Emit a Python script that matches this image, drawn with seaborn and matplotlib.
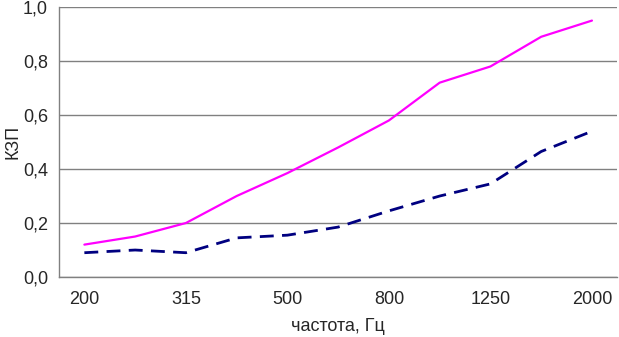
import numpy as np
import pandas as pd
import seaborn as sns
import matplotlib
matplotlib.use("Agg")
import matplotlib.pyplot as plt
from matplotlib.ticker import FixedLocator, FuncFormatter

# частоты, Гц (третьоктавные полосы)
freqs = ["200", "250", "315", "400", "500", "630", "800", "1000", "1250", "1600", "2000"]
kzp_1 = [0.12, 0.15, 0.20, 0.30, 0.385, 0.48, 0.58, 0.72, 0.78, 0.89, 0.95]
kzp_2 = [0.09, 0.10, 0.09, 0.145, 0.155, 0.185, 0.245, 0.30, 0.345, 0.465, 0.54]
shown_labels = ["200", "315", "500", "800", "1250", "2000"]

sns.set_style("white")
plt.rcParams["font.family"] = ["Liberation Sans", "DejaVu Sans"]

df = pd.DataFrame({"x": np.arange(len(freqs)), "k1": kzp_1, "k2": kzp_2})

fig = plt.figure(figsize=(6.19, 3.37), dpi=100)
ax = fig.add_axes([0.0953, 0.178, 0.902, 0.801])

sns.lineplot(data=df, x="x", y="k1", color="#FF00FF", linewidth=1.6, ax=ax)
sns.lineplot(data=df, x="x", y="k2", color="#000080", linewidth=2,
             linestyle=(0, (5, 3)), ax=ax)

ax.set_xlim(-0.5, len(freqs) - 0.5)
ax.set_ylim(0, 1.0)
ax.set_yticks(np.arange(0, 1.01, 0.2))
ax.yaxis.set_major_formatter(FuncFormatter(lambda v, p: f"{v:.1f}".replace(".", ",")))
ax.grid(axis="y", color="#808080", linewidth=1)
ax.set_axisbelow(True)

# подписи частот через одну, засечки между категориями
pos = [freqs.index(l) for l in shown_labels]
ax.set_xticks(pos)
ax.set_xticklabels(shown_labels)
ax.xaxis.set_minor_locator(FixedLocator(np.arange(-0.5, len(freqs), 1.0)))
ax.tick_params(axis="x", which="major", length=0, pad=10, labelsize=13)
ax.tick_params(axis="x", which="minor", length=5, width=1, color="#808080", direction="out")
ax.tick_params(axis="y", length=5, width=1, color="#808080", direction="out", labelsize=13, pad=3)

for s in ["top", "right"]:
    ax.spines[s].set_visible(False)
for s in ["left", "bottom"]:
    ax.spines[s].set_color("#808080")
    ax.spines[s].set_linewidth(1)

ax.set_xlabel("частота, Гц", fontsize=13, labelpad=7)
ax.set_ylabel("КЗП", fontsize=13)
ax.yaxis.set_label_coords(-0.068, 0.5)

fig.savefig("out.png", dpi=100)
